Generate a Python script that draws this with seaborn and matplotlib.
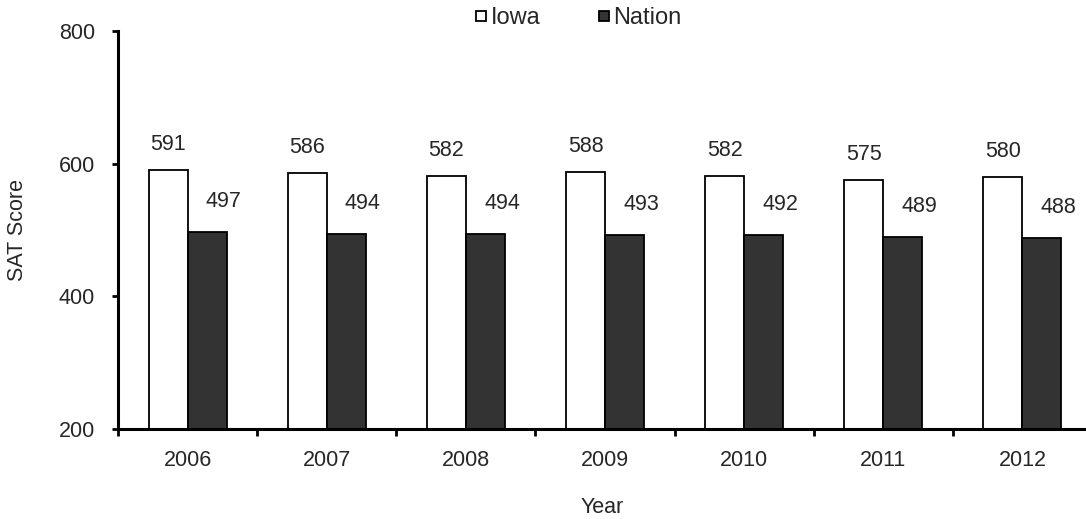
import matplotlib
matplotlib.use("Agg")
import matplotlib.pyplot as plt
import seaborn as sns
import pandas as pd
from matplotlib.lines import Line2D

years = ["2006", "2007", "2008", "2009", "2010", "2011", "2012"]
iowa = [591, 586, 582, 588, 582, 575, 580]
nation = [497, 494, 494, 493, 492, 489, 488]
series_names = ["Iowa", "Nation"]
colors = {"Iowa": "#ffffff", "Nation": "#333333"}

df = pd.DataFrame({
    "Year": years * 2,
    "Score": iowa + nation,
    "Group": [series_names[0]] * len(years) + [series_names[1]] * len(years),
})

sns.set_style("white")
plt.rcParams["font.family"] = ["Liberation Sans", "DejaVu Sans"]

fs = 15.5
fig = plt.figure(figsize=(10.86, 5.19), dpi=100)
ax = fig.add_axes([118 / 1086, 90 / 519, (1092 - 118) / 1086, (429 - 31) / 519])

sns.barplot(data=df, x="Year", y="Score", hue="Group", palette=colors,
            edgecolor="black", linewidth=1.3, width=0.56, legend=False,
            errorbar=None, ax=ax)

ax.set_ylim(200, 800)
ax.set_xlim(-0.5, len(years) - 0.5)
ax.set_yticks([200, 400, 600, 800])

for s in ["top", "right"]:
    ax.spines[s].set_visible(False)
for s in ["left", "bottom"]:
    ax.spines[s].set_linewidth(2.2)
    ax.spines[s].set_color("black")

ax.tick_params(axis="y", direction="out", length=4.5, width=2, pad=12,
               labelsize=fs, left=True, color="black")
ax.tick_params(axis="x", which="major", length=0, pad=15, labelsize=fs)
ax.set_xticks([i - 0.5 for i in range(len(years) + 1)], minor=True)
ax.tick_params(axis="x", which="minor", direction="out", length=5, width=2,
               bottom=True, color="black")

ax.set_xlabel("Year", fontsize=fs)
ax.set_ylabel("SAT Score", fontsize=fs)
ax.xaxis.set_label_coords(0.4975, -0.171)
ax.yaxis.set_label_coords(-0.0924, 0.5)

# data labels
for bar, v in zip(ax.containers[0], iowa):
    ax.annotate(f"{v}", (bar.get_x() + bar.get_width() / 2, v),
                xytext=(0, 14.4), textcoords="offset points",
                ha="center", va="baseline", fontsize=fs)
for bar, v in zip(ax.containers[1], nation):
    ax.annotate(f"{v}", (bar.get_x() + bar.get_width() / 2, v),
                xytext=(12, 18), textcoords="offset points",
                ha="center", va="baseline", fontsize=fs)

handles = [Line2D([], [], marker="s", linestyle="none", markersize=7,
                  markerfacecolor=colors[n], markeredgecolor="black",
                  markeredgewidth=1.3) for n in series_names]
fig.legend(handles, series_names, loc="center", bbox_to_anchor=(0.532, 0.965),
           ncol=2, frameon=False, fontsize=17, handlelength=0.6,
           handletextpad=0.1, columnspacing=2.4, borderpad=0)

fig.savefig("out.png", dpi=100)
